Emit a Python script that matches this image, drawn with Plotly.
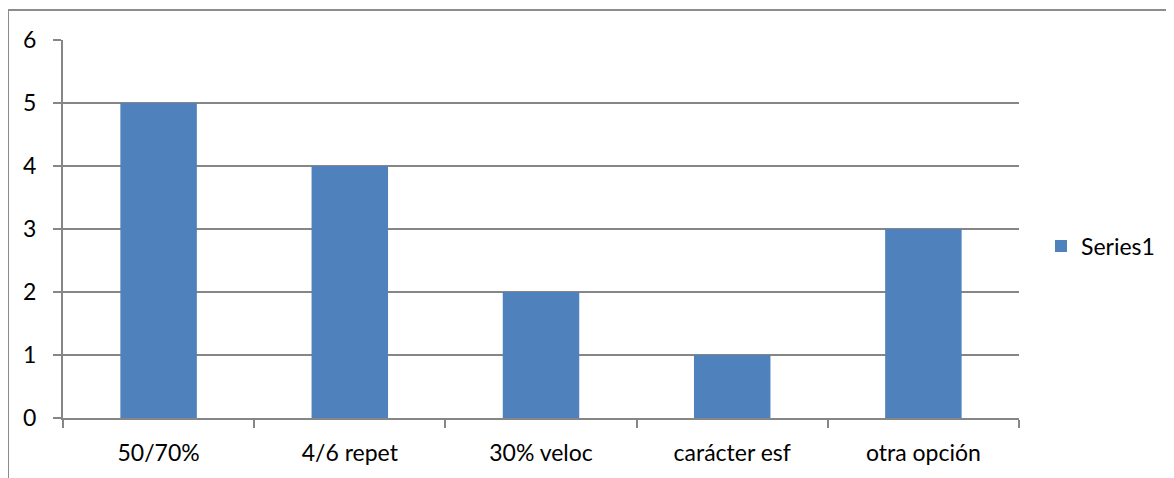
import plotly.graph_objects as go

categories = ["50/70%", "4/6 repet", "30% veloc", "carácter esf", "otra opción"]
values = [5, 4, 2, 1, 3]
series_name = "Series1"

OFF = 8  # page offset of the figure inside the browser body
W, H = 1174 - OFF, 478 - OFF
L, R, T, B = 63 - OFF, 1019 - OFF, 40 - OFF, 418 - OFF
pw, ph = R - L, B - T

fig = go.Figure()
fig.add_trace(go.Bar(x=categories, y=values, name=series_name,
                     marker=dict(color="#4F81BD", line=dict(width=0)),
                     showlegend=True))

grid = "#868686"
fig.update_layout(
    width=W, height=H,
    margin=dict(l=L, r=W - R, t=T, b=H - B, pad=0),
    paper_bgcolor="white", plot_bgcolor="white",
    bargap=0.6,
    font=dict(family="Lato, Open Sans, sans-serif", size=23, color="#000000"),
    showlegend=True,
    legend=dict(x=(1041 - OFF - L) / pw, y=(B - (246 - OFF)) / ph, xanchor="left", yanchor="middle",
                font=dict(size=23), itemwidth=30, bgcolor="rgba(0,0,0,0)"),
    xaxis=dict(showline=True, linecolor=grid, linewidth=2, ticks="outside",
               tickson="boundaries", ticklen=8, tickcolor=grid, tickwidth=2,
               showgrid=False, tickfont=dict(size=23), ticklabelstandoff=13),
    yaxis=dict(range=[0, 6], dtick=1, showline=True, linecolor=grid, linewidth=2,
               ticks="outside", ticklen=8, tickcolor=grid, tickwidth=2,
               showgrid=True, gridcolor=grid, gridwidth=2, zeroline=False,
               tickfont=dict(size=23), ticklabelstandoff=12),
    shapes=[dict(type="rect", xref="paper", yref="paper",
                 x0=(8 - OFF - L) / pw, x1=(W + 5 - L) / pw,
                 y0=(B - (H + 5)) / ph, y1=(B - (10 - OFF)) / ph,
                 line=dict(color="#8c8c8c", width=2), fillcolor="rgba(0,0,0,0)")],
)

fig.write_html("out.html")
